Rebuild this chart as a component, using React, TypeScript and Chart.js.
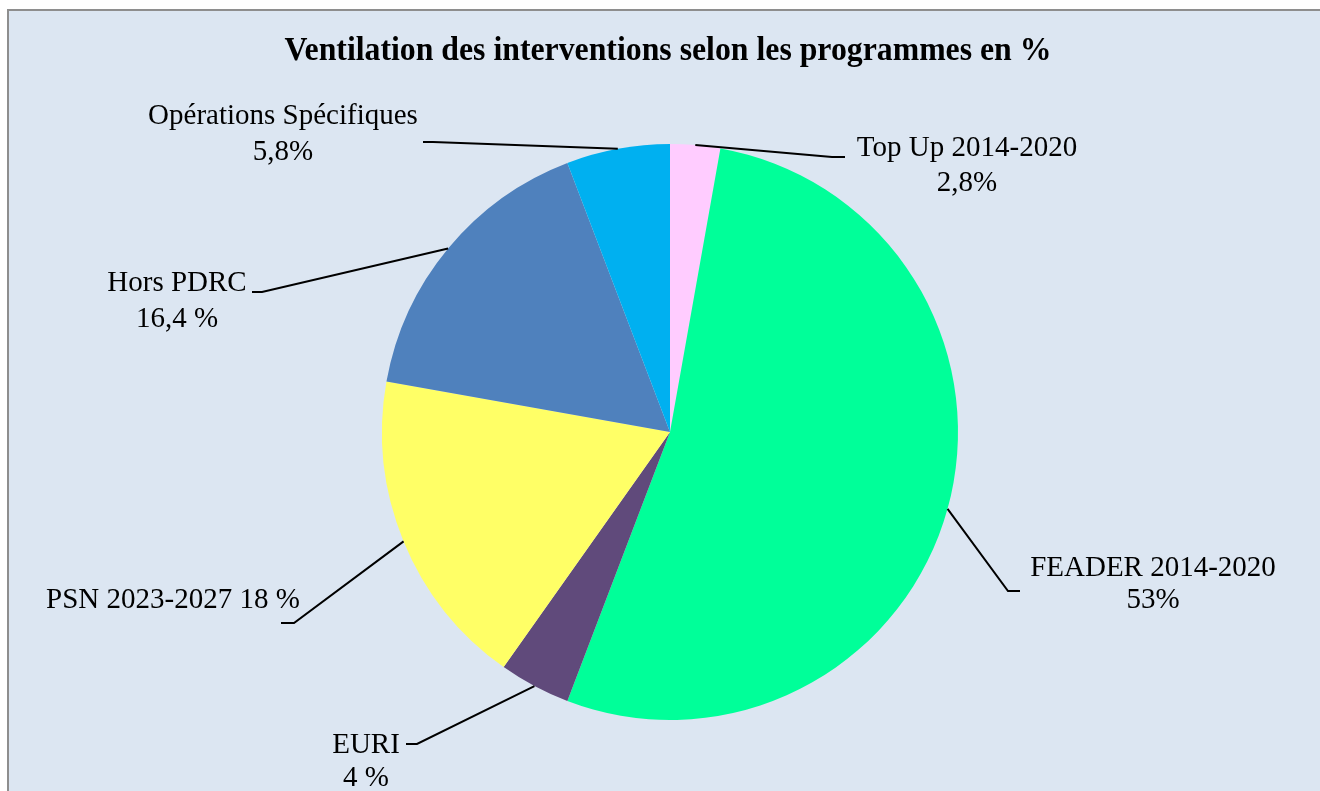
import React, { useEffect, useRef } from "react";
import { Chart, registerables } from "chart.js";

Chart.register(...registerables);

const TITLE = "Ventilation des interventions selon les programmes en %";
const categories = [
  "Top Up 2014-2020",
  "FEADER 2014-2020",
  "EURI",
  "PSN 2023-2027",
  "Hors PDRC",
  "Opérations Spécifiques",
];
const values = [2.8, 53, 4, 18, 16.4, 5.8];
const valueLabels = ["2,8%", "53%", "4 %", "18 %", "16,4 %", "5,8%"];
const colors = ["#FFCCFF", "#00FF99", "#604A7B", "#FFFF66", "#4F81BD", "#00B0F0"];

// Label layout, in px relative to the pie centre (style only)
// tx: text centre x, b1/b2: baselines, elbow and end of leader line, single: one-line label
const LAYOUT = [
  { tx: 297, b1: -276, b2: -241, ex: 162, ey: -275, endx: 175, endy: -275, single: false },
  { tx: 483, b1: 144, b2: 176, ex: 338, ey: 159, endx: 350, endy: 159, single: false },
  { tx: -304, b1: 321, b2: 354, ex: -253, ey: 312, endx: -264, endy: 312, single: false },
  { tx: -497, b1: 176, b2: 0, ex: -376, ey: 191, endx: -389, endy: 191, single: true },
  { tx: -493, b1: -141, b2: -105, ex: -408, ey: -140, endx: -418, endy: -140, single: false },
  { tx: -387, b1: -308, b2: -272, ex: -237, ey: -290, endx: -247, endy: -290, single: false },
];

function drawStretched(ctx: CanvasRenderingContext2D, text: string, x: number, y: number, sy: number) {
  ctx.save();
  ctx.translate(x, y);
  ctx.scale(1, sy);
  ctx.fillText(text, 0, 0);
  ctx.restore();
}

const labelPlugin = {
  id: "customLabels",
  afterDraw(chart: any) {
    const ctx = chart.ctx as CanvasRenderingContext2D;
    const meta = chart.getDatasetMeta(0);
    const arcs = meta.data as any[];
    if (!arcs.length) return;
    const cx = arcs[0].x;
    const cy = arcs[0].y;
    ctx.save();
    // title
    ctx.fillStyle = "#000";
    ctx.textAlign = "center";
    ctx.textBaseline = "alphabetic";
    ctx.font = "bold 33px 'Liberation Serif', 'Times New Roman', serif";
    const tw = ctx.measureText(TITLE).width;
    const targetW = 767;
    const sx = Math.min(1.3, Math.max(0.7, targetW / tw));
    ctx.save();
    ctx.translate(668, 60);
    ctx.scale(sx, 1);
    ctx.fillText(TITLE, 0, 0);
    ctx.restore();

    // leader lines and labels
    ctx.font = "29px 'Liberation Serif', 'Times New Roman', serif";
    arcs.forEach((arc, i) => {
      const L = LAYOUT[i];
      const mid = (arc.startAngle + arc.endAngle) / 2;
      const r = arc.outerRadius;
      const sx0 = arc.x + Math.cos(mid) * r;
      const sy0 = arc.y + Math.sin(mid) * r;
      ctx.strokeStyle = "#000";
      ctx.lineWidth = 2;
      ctx.beginPath();
      ctx.moveTo(sx0, sy0);
      ctx.lineTo(cx + L.ex, cy + L.ey);
      ctx.lineTo(cx + L.endx, cy + L.endy);
      ctx.stroke();
      ctx.fillStyle = "#000";
      ctx.textAlign = "center";
      if (L.single) {
        drawStretched(ctx, categories[i] + " " + valueLabels[i], cx + L.tx, cy + L.b1, 1.05);
      } else {
        drawStretched(ctx, categories[i], cx + L.tx, cy + L.b1, 1.05);
        drawStretched(ctx, valueLabels[i], cx + L.tx, cy + L.b2, 1.05);
      }
    });
    ctx.restore();
  },
};

export default function App() {
  const ref = useRef<HTMLCanvasElement | null>(null);
  useEffect(() => {
    if (!ref.current) return;
    const chart = new Chart(ref.current, {
      type: "pie",
      data: {
        labels: categories,
        datasets: [
          {
            data: values,
            backgroundColor: colors,
            borderWidth: 0,
            hoverOffset: 0,
          },
        ],
      },
      options: {
        responsive: false,
        animation: false,
        events: [],
        layout: { padding: { top: 144, bottom: 71, left: 382, right: 362 } },
        plugins: {
          legend: { display: false },
          title: { display: false },
          tooltip: { enabled: false },
        },
      },
      plugins: [labelPlugin],
    });
    return () => chart.destroy();
  }, []);

  return (
    <div style={{ position: "fixed", left: 0, top: 0, width: 1320, height: 791, overflow: "hidden", background: "#fff" }}>
      <div
        style={{
          position: "absolute",
          left: 7,
          top: 9,
          width: 1400,
          height: 900,
          background: "#DCE6F2",
          border: "2px solid #8E8E8E",
        }}
      />
      <canvas ref={ref} width={1320} height={791} style={{ position: "absolute", left: 0, top: 0 }} />
    </div>
  );
}
